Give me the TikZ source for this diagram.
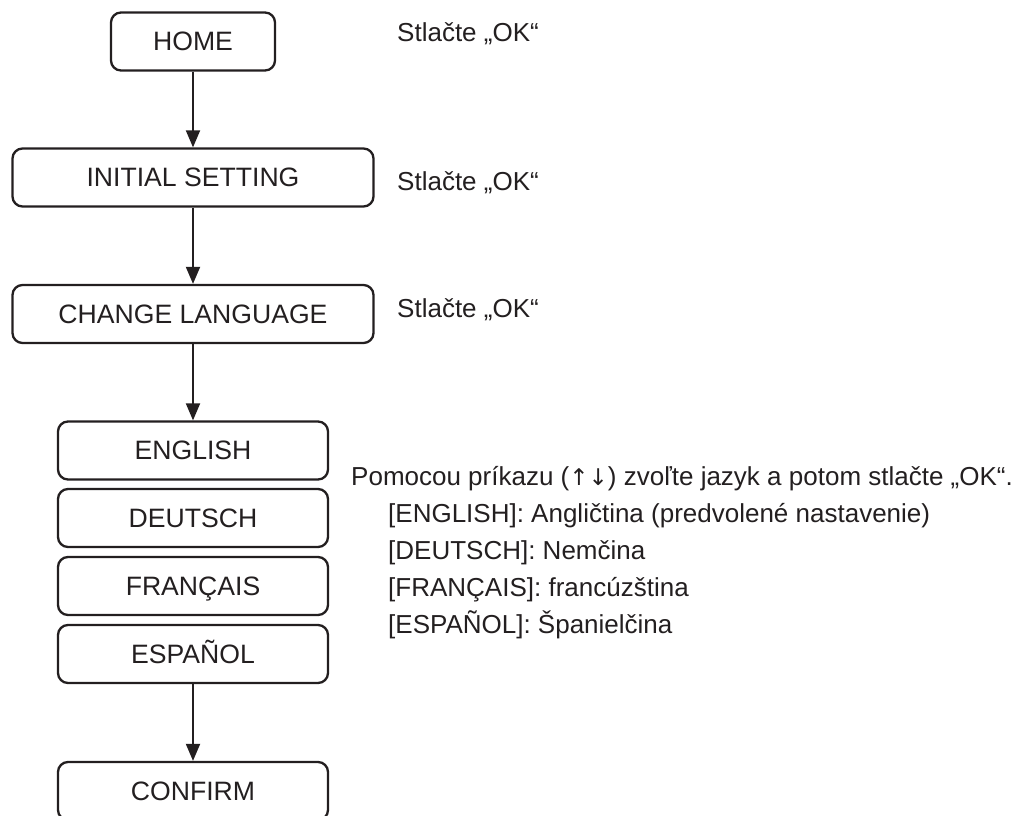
\documentclass[tikz,border=0pt]{standalone}
\usepackage{fontspec}
\setmainfont{Liberation Sans}
\newfontfamily\arrowfont{DejaVu Sans}
\usetikzlibrary{arrows.meta}
\definecolor{ink}{HTML}{231F20}

\begin{document}
\begin{tikzpicture}[x=1pt, y=-1pt, >={Triangle[length=17pt,width=14pt]}, line join=round,
	font=\fontsize{26}{37}\selectfont, color=ink,
	stepbox/.style={draw, rounded corners=10pt, line width=2.3pt, inner sep=0pt,
		minimum height=58pt, text height=18.9pt, text depth=0pt,
		font=\fontsize{26.6}{37}\selectfont},
	note/.style={anchor=base west, inner sep=0pt}]
	\useasboundingbox (0,0) rectangle (1021,816);
	% Body of the flow: the boxes, one under another
	\node[stepbox, minimum width=164pt] (home) at (193,41.5) {HOME};
	\node[stepbox, minimum width=361pt] (init) at (193,177.5) {INITIAL SETTING};
	\node[stepbox, minimum width=361pt] (lang) at (193,314) {CHANGE LANGUAGE};
	\node[stepbox, minimum width=270pt] (eng) at (193,450.5) {ENGLISH};
	\node[stepbox, minimum width=270pt] (deu) at (193,518) {DEUTSCH};
	\node[stepbox, minimum width=270pt] (fra) at (193,586) {FRANÇAIS};
	\node[stepbox, minimum width=270pt] (esp) at (193,654) {ESPAÑOL};
	\node[stepbox, minimum width=270pt] (conf) at (193,791) {CONFIRM};
	% Arrows between the steps
	\draw[->, line width=2pt] (home) -- (init);
	\draw[->, line width=2pt] (init) -- (lang);
	\draw[->, line width=2pt] (lang) -- (eng);
	\draw[->, line width=2pt] (esp) -- (conf);
	% Hints on the right
	\foreach \n/\y in {okA/41.5, okB/190, okC/317.5}
	\node[note] (\n) at (397,\y) {Stlačte „OK“};
	\node[note] (hint) at (351,485) {Pomocou príkazu ({\arrowfont\fontsize{23}{37}\selectfont ↑↓}) zvoľte jazyk a potom stlačte „OK“.};
	\node[note] (lsEng) at (388,522) {[ENGLISH]: Angličtina (predvolené nastavenie)};
	\node[note] (lsDeu) at (388,559) {[DEUTSCH]: Nemčina};
	\node[note] (lsFra) at (388,596) {[FRANÇAIS]: francúzština};
	\node[note] (lsEsp) at (388,633) {[ESPAÑOL]: Španielčina};
\end{tikzpicture}
\end{document}
